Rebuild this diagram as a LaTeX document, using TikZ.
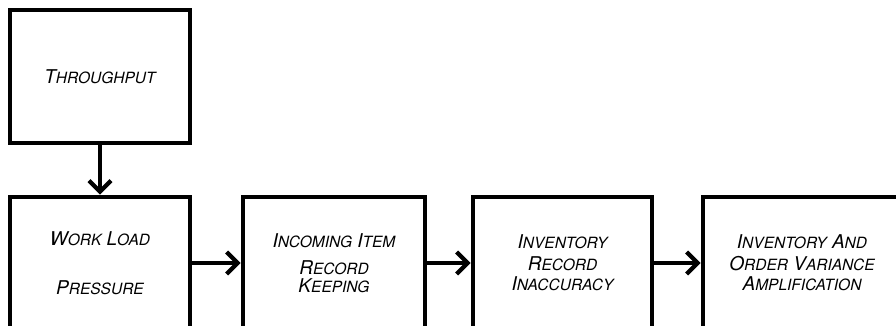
\documentclass[tikz,border=0pt]{standalone}
\usepackage{fontspec}
\setmainfont{TeX Gyre Heros}
\usetikzlibrary{arrows.meta}

% smaller capitals for the faked small-caps words
\newcommand{\lc}[1]{{\fontsize{15.5}{22}\selectfont #1}}

\begin{document}
\begin{tikzpicture}[x=1pt,y=1pt,>={Straight Barb[length=11pt,width=22pt]},
  box/.style={draw,line width=4.8pt,minimum height=132pt,align=center,inner sep=0pt,
    font=\fontsize{19}{22}\selectfont\itshape},
  link/.style={->,line width=4.2pt}]
\useasboundingbox (0,0) rectangle (896,326);
\clip (0,0) rectangle (896,326);
\node[box,minimum width=180pt,minimum height=133pt] (thru) at (100,249.5) {T\lc{HROUGHPUT}};
\node[box,minimum width=180pt] (load) at (100,63) {W\lc{ORK} L\lc{OAD}\\[5pt] \\ P\lc{RESSURE}};
\node[box,minimum width=182pt] (keep) at (334,63) {I\lc{NCOMING} I\lc{TEM}\\[5pt] R\lc{ECORD}\\[-4pt] K\lc{EEPING}};
\node[box,minimum width=179pt] (inacc) at (562.5,63) {I\lc{NVENTORY}\\ R\lc{ECORD}\\[-2pt] I\lc{NACCURACY}};
\node[box,minimum width=198pt] (ampl) at (802,63) {I\lc{NVENTORY} A\lc{ND}\\ O\lc{RDER} V\lc{ARIANCE}\\[-2pt] A\lc{MPLIFICATION}};
\draw[link] (thru) -- (load);
\draw[link] (load) -- (keep);
\draw[link] (keep) -- (inacc);
\draw[link] (inacc) -- (ampl);
\end{tikzpicture}
\end{document}
